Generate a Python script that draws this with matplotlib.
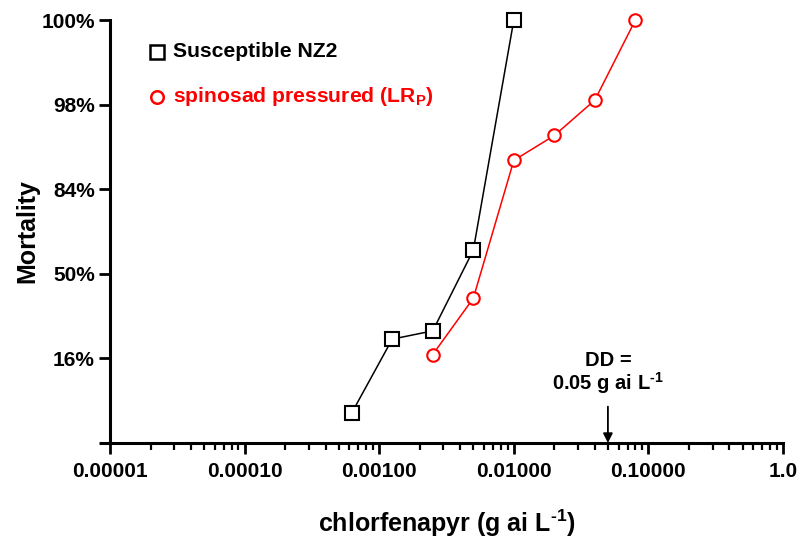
import matplotlib
matplotlib.use("Agg")
import matplotlib.pyplot as plt
from matplotlib.ticker import FixedLocator, LogLocator, NullFormatter
from statistics import NormalDist

plt.rcParams['font.family'] = ['Liberation Sans', 'DejaVu Sans']
plt.rcParams['font.weight'] = 'bold'
plt.rcParams['mathtext.fontset'] = 'custom'
plt.rcParams['mathtext.bf'] = 'Liberation Sans:bold'
plt.rcParams['mathtext.rm'] = 'Liberation Sans:bold'

# Dose (g ai/L) and mortality (%)
nz2_dose = [0.000625, 0.00125, 0.0025, 0.005, 0.01]
nz2_mort = [5.0, 22.0, 25.0, 61.0, 100.0]
lrp_dose = [0.0025, 0.005, 0.01, 0.02, 0.04, 0.08]
lrp_mort = [17.0, 38.6, 91.0, 94.9, 98.0, 100.0]

ytick_probits = [-1, 0, 1, 2, 3]
ytick_labels = ['16%', '50%', '84%', '98%', '100%']
xtick_values = [1e-5, 1e-4, 1e-3, 1e-2, 1e-1, 1.0]
xtick_labels = ['0.00001', '0.00010', '0.00100', '0.01000', '0.10000', '1.0']
dd_dose = 0.05

nd = NormalDist()


def probit(pct):
    # mortality percent -> normal deviate, 100% drawn at the top of the scale
    p = min(max(pct / 100.0, 0.0013499), 0.9986501)
    return nd.inv_cdf(p)


# superscript "-1" with a plain hyphen rather than a minus sign
SUP = '$^{\\mathbf{\u20101}}$'

fig = plt.figure(figsize=(8.0, 5.38), dpi=100)
ax = fig.add_axes([0.1375, 0.1766, 0.8413, 0.7862])

ax.plot(nz2_dose, [probit(v) for v in nz2_mort], color='black', lw=1.1,
        marker='s', ms=9.5, mfc='white', mec='black', mew=1.5, clip_on=False,
        zorder=3)
ax.plot(lrp_dose, [probit(v) for v in lrp_mort], color='#ff0000', lw=1.1,
        marker='o', ms=9, mfc='white', mec='#ff0000', mew=1.5, clip_on=False,
        zorder=3)

ax.set_xscale('log')
ax.set_xlim(1e-5, 1.0)
ax.set_ylim(-2, 3)

ax.xaxis.set_major_locator(FixedLocator(xtick_values))
ax.set_xticklabels(xtick_labels)
ax.xaxis.set_minor_locator(LogLocator(base=10, subs=range(2, 10), numticks=20))
ax.xaxis.set_minor_formatter(NullFormatter())

ax.yaxis.set_major_locator(FixedLocator([-2] + ytick_probits))
ax.set_yticklabels([''] + ytick_labels)

for s in ['top', 'right']:
    ax.spines[s].set_visible(False)
for s in ['left', 'bottom']:
    ax.spines[s].set_linewidth(2.2)
ax.spines['bottom'].set_bounds(10 ** (-5 - 9 / 135.0), 1.0)

ax.tick_params(axis='both', which='major', direction='out', length=8, width=2,
               labelsize=15, pad=3)
ax.tick_params(axis='x', which='minor', direction='out', length=5, width=1.6)
ax.tick_params(axis='x', which='major', pad=6)
for lab in ax.get_xticklabels() + ax.get_yticklabels():
    lab.set_fontweight('bold')

ax.set_ylabel('Mortality', fontsize=18, fontweight='bold', labelpad=1)
ax.set_xlabel('chlorfenapyr (g ai L' + SUP + ')', fontsize=18,
              fontweight='bold', labelpad=19)

# legend drawn as markers + text in axes coordinates
ax.plot([0.07], [0.925], transform=ax.transAxes, marker='s', ms=9.5,
        mfc='white', mec='black', mew=1.8, ls='none', clip_on=False)
ax.text(0.094, 0.925, 'Susceptible NZ2', transform=ax.transAxes,
        fontsize=15.2, fontweight='bold', va='center', ha='left')
ax.plot([0.07], [0.818], transform=ax.transAxes, marker='o', ms=9,
        mfc='white', mec='#ff0000', mew=1.8, ls='none', clip_on=False)
ax.text(0.094, 0.818, r'spinosad pressured (LR$_{\mathbf{P}}$)',
        transform=ax.transAxes, fontsize=15.2, fontweight='bold',
        va='center', ha='left', color='#ff0000')

# discriminating dose marker
ax.annotate('', xy=(dd_dose, -2), xytext=(dd_dose, -1.57),
            arrowprops=dict(arrowstyle='-|>', color='black', lw=1.3,
                            mutation_scale=14, shrinkA=0, shrinkB=0))
ax.text(dd_dose, -1.03, 'DD =', ha='center', va='center', fontsize=14.5,
        fontweight='bold')
ax.text(dd_dose, -1.29, '0.05 g ai L' + SUP, ha='center',
        va='center', fontsize=14.5, fontweight='bold')

fig.savefig('out.png', dpi=100)
